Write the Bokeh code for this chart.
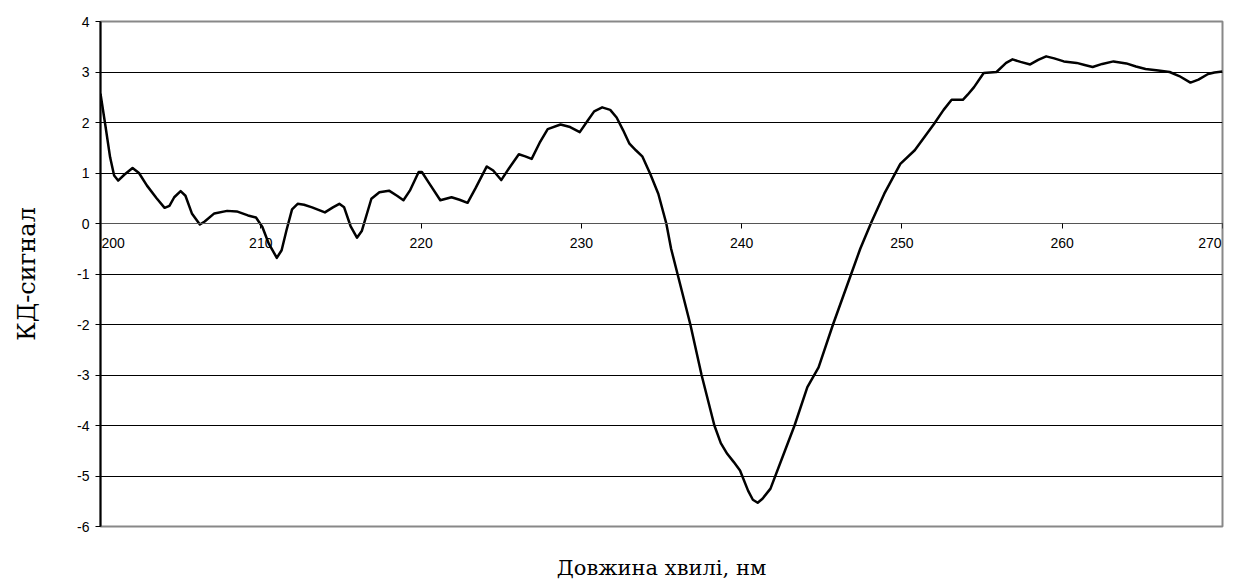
from bokeh.plotting import figure
from bokeh.models import SingleIntervalTicker, FixedTicker, Label, PrintfTickFormatter, LinearAxis
from bokeh.embed import file_html
from bokeh.resources import INLINE

# Wavelength (nm) and CD signal
wavelength = [200.0, 200.3, 200.6, 200.85, 201.1, 201.5, 202.0, 202.4, 202.9, 203.5,
              204.0, 204.3, 204.6, 205.0, 205.3, 205.7, 206.2, 206.5, 207.1, 207.9,
              208.5, 209.2, 209.7, 210.1, 210.5, 211.0, 211.3, 211.6, 211.95, 212.3,
              212.7, 213.2, 214.0, 214.5, 214.9, 215.2, 215.6, 216.0, 216.3, 216.9,
              217.4, 218.0, 218.5, 218.9, 219.3, 219.85, 220.05, 220.5, 221.2, 221.9,
              222.4, 222.9, 223.4, 224.1, 224.5, 225.0, 225.5, 226.1, 226.5, 226.9,
              227.4, 227.9, 228.7, 229.3, 229.9, 230.4, 230.8, 231.3, 231.8, 232.2,
              232.6, 233.0, 233.4, 233.8, 234.3, 234.8, 235.3, 235.6, 236.0, 236.4,
              236.8, 237.5, 238.3, 238.7, 239.1, 239.5, 239.9, 240.4, 240.7, 241.0,
              241.3, 241.8, 242.7, 243.3, 244.1, 244.8, 245.7, 246.8, 247.4, 248.1,
              248.9, 249.9, 250.8, 252.0, 252.6, 253.1, 253.8, 254.1, 254.5, 255.1,
              255.9, 256.5, 256.9, 257.4, 258.0, 258.5, 259.0, 259.5, 260.1, 260.9,
              261.4, 261.9, 262.5, 263.2, 264.0, 264.6, 265.2, 266.0, 266.7, 267.3,
              268.0, 268.5, 269.1, 269.5, 270.0]
cd_signal = [2.57, 1.95, 1.31, 0.95, 0.85, 0.97, 1.10, 1.00, 0.75, 0.50,
             0.31, 0.35, 0.52, 0.64, 0.55, 0.20, -0.02, 0.04, 0.20, 0.25,
             0.24, 0.16, 0.12, -0.07, -0.40, -0.68, -0.53, -0.14, 0.28, 0.39,
             0.37, 0.32, 0.22, 0.32, 0.39, 0.32, -0.05, -0.28, -0.15, 0.49,
             0.62, 0.65, 0.55, 0.46, 0.65, 1.02, 1.02, 0.80, 0.46, 0.52,
             0.47, 0.41, 0.70, 1.13, 1.05, 0.86, 1.10, 1.37, 1.33, 1.28,
             1.60, 1.87, 1.96, 1.91, 1.81, 2.04, 2.22, 2.30, 2.25, 2.10,
             1.85, 1.58, 1.45, 1.33, 0.98, 0.59, 0.00, -0.50, -1.00, -1.50,
             -2.00, -3.00, -4.00, -4.35, -4.56, -4.72, -4.89, -5.29, -5.47, -5.53,
             -5.45, -5.25, -4.50, -4.00, -3.24, -2.85, -2.00, -1.03, -0.50, 0.03,
             0.59, 1.18, 1.45, 1.97, 2.25, 2.45, 2.45, 2.55, 2.70, 2.98,
             3.00, 3.18, 3.25, 3.20, 3.15, 3.24, 3.31, 3.27, 3.21, 3.18,
             3.14, 3.10, 3.16, 3.21, 3.17, 3.11, 3.06, 3.03, 3.00, 2.92,
             2.79, 2.85, 2.96, 2.99, 3.01]

x_ticks = [200, 210, 220, 230, 240, 250, 260, 270]
x_tick_labels = ["200", "210", "220", "230", "240", "250", "260", "270"]
x_title = "Довжина хвилі, нм"
y_title = "КД-сигнал"

p = figure(frame_width=1122, frame_height=505, x_range=(200, 270), y_range=(-6, 4),
           output_backend="svg", toolbar_location=None,
           min_border_left=100, min_border_top=21, min_border_right=6, min_border_bottom=10)

p.line(wavelength, cd_signal, line_color="black", line_width=2.5, line_join="round")

# default bottom axis: carries only the x title
xb = p.xaxis[0]
xb.ticker = FixedTicker(ticks=[])
xb.axis_line_color = None
xb.major_tick_line_color = None
xb.minor_tick_line_color = None
xb.major_label_text_font_size = "0px"
xb.major_label_standoff = 0
xb.bounds = (200, 268.6)
xb.axis_label = x_title
xb.axis_label_text_font = "DejaVu Serif"
xb.axis_label_text_font_style = "normal"
xb.axis_label_text_font_size = "21px"
xb.axis_label_text_color = "black"
xb.axis_label_standoff = 29

# x axis crossing at y = 0
edge_ticks = [x_ticks[0], x_ticks[-1]]
xa = LinearAxis(fixed_location=0)
xa.ticker = FixedTicker(ticks=x_ticks)
xa.major_label_overrides = {t: ("" if t in edge_ticks else s) for t, s in zip(x_ticks, x_tick_labels)}
xa.axis_line_color = "#555555"
xa.axis_line_width = 1
xa.major_tick_line_color = "black"
xa.major_tick_out = 5
xa.major_tick_in = 0
xa.minor_tick_line_color = None
xa.major_label_standoff = 9
xa.major_label_text_font = "Liberation Sans"
xa.major_label_text_font_size = "14px"
xa.major_label_text_color = "black"
p.add_layout(xa, "below")

# first and last tick labels kept inside the frame (the frame clips fixed axes)
for t, s, al in [(x_ticks[0], x_tick_labels[0], "left"), (x_ticks[-1], x_tick_labels[-1], "right")]:
    p.add_layout(Label(x=t, y=0, text=s, y_offset=-14, x_offset=(1 if al == "left" else -1),
                       text_align=al, text_baseline="top",
                       text_font="Liberation Sans", text_font_size="14px",
                       text_color="black"))

ya = p.yaxis[0]
ya.ticker = SingleIntervalTicker(interval=1)
ya.formatter = PrintfTickFormatter(format="%d")
ya.axis_line_color = "black"
ya.axis_line_width = 2
ya.major_tick_line_color = "black"
ya.major_tick_out = 5
ya.major_tick_in = 0
ya.minor_tick_line_color = None
ya.major_label_standoff = 6
ya.major_label_text_font = "Liberation Sans"
ya.major_label_text_font_size = "14px"
ya.major_label_text_color = "black"
ya.axis_label = y_title
ya.axis_label_text_font = "DejaVu Serif"
ya.axis_label_text_font_style = "normal"
ya.axis_label_text_font_size = "24px"
ya.axis_label_text_color = "black"
ya.axis_label_standoff = 33

p.xgrid.visible = False
p.ygrid.ticker = SingleIntervalTicker(interval=1)
p.ygrid.grid_line_color = "black"
p.ygrid.grid_line_width = 1

p.outline_line_color = "#888888"
p.outline_line_width = 2

open("out.html", "w").write(file_html(p, INLINE))
